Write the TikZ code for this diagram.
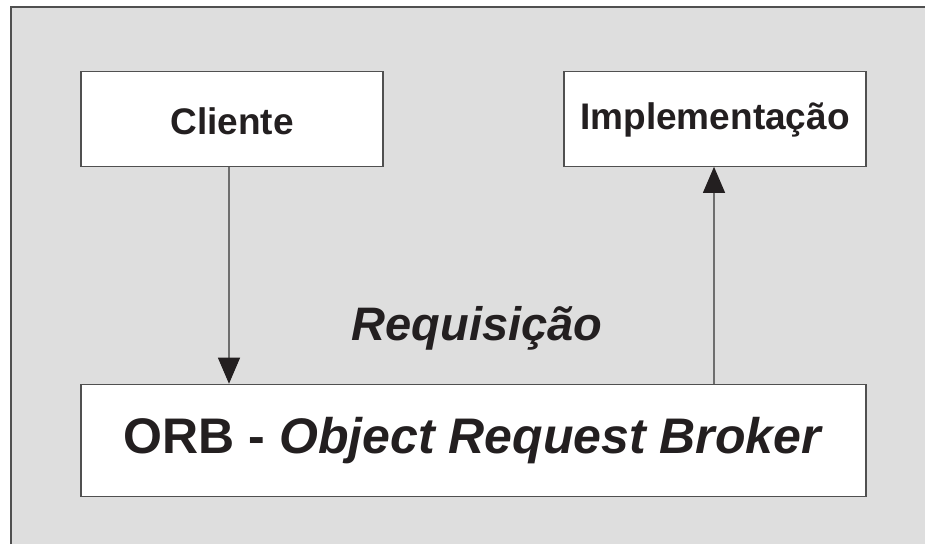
\documentclass[tikz,border=0pt]{standalone}
\usepackage{fontspec}
\setmainfont{Liberation Sans}
\usetikzlibrary{arrows.meta}
\definecolor{bggrey}{HTML}{DEDEDE}
\definecolor{edgegrey}{HTML}{505050}
\definecolor{linegrey}{HTML}{6E6E6E}
\definecolor{ink}{HTML}{231F20}
\begin{document}
\begin{tikzpicture}[x=1pt,y=-1pt,
  boxnode/.style={draw=edgegrey,line width=1.1pt,fill=white,inner sep=0pt,
    text=ink,font=\fontsize{37}{40}\selectfont\bfseries,text depth=0pt},
  conn/.style={draw=linegrey,line width=1.1pt,-{Triangle[length=26pt,width=22pt,fill=ink,color=ink]}}]
\useasboundingbox (0,0) rectangle (925,544);
\fill[bggrey] (11,7) rectangle (925,544);
\draw[edgegrey,line width=1.1pt] (11,544) -- (11,7) -- (925,7);
\node[boxnode,minimum width=302pt,minimum height=95pt,text height=30.5pt] (cli) at (232,118.75) {Cliente};
\node[boxnode,minimum width=302pt,minimum height=95pt,text height=20.5pt] (impl) at (715,118.75) {Implementação};
\node[boxnode,minimum width=785pt,minimum height=112pt,text height=25.5pt,
  font=\fontsize{50}{54}\selectfont\bfseries] (orb) at (473.5,440.25) {ORB - \textit{Object Request Broker}};
\node[anchor=base,inner sep=0pt,text=ink,font=\fontsize{47}{50}\selectfont\bfseries\itshape] (req) at (477,340) {Requisição};
\draw[conn] ([xshift=-3pt]cli.south) -- ([xshift=-3pt]cli.south |- orb.north);
\draw[conn] ([xshift=-1pt]impl.south |- orb.north) -- ([xshift=-1pt]impl.south);
\end{tikzpicture}
\end{document}
